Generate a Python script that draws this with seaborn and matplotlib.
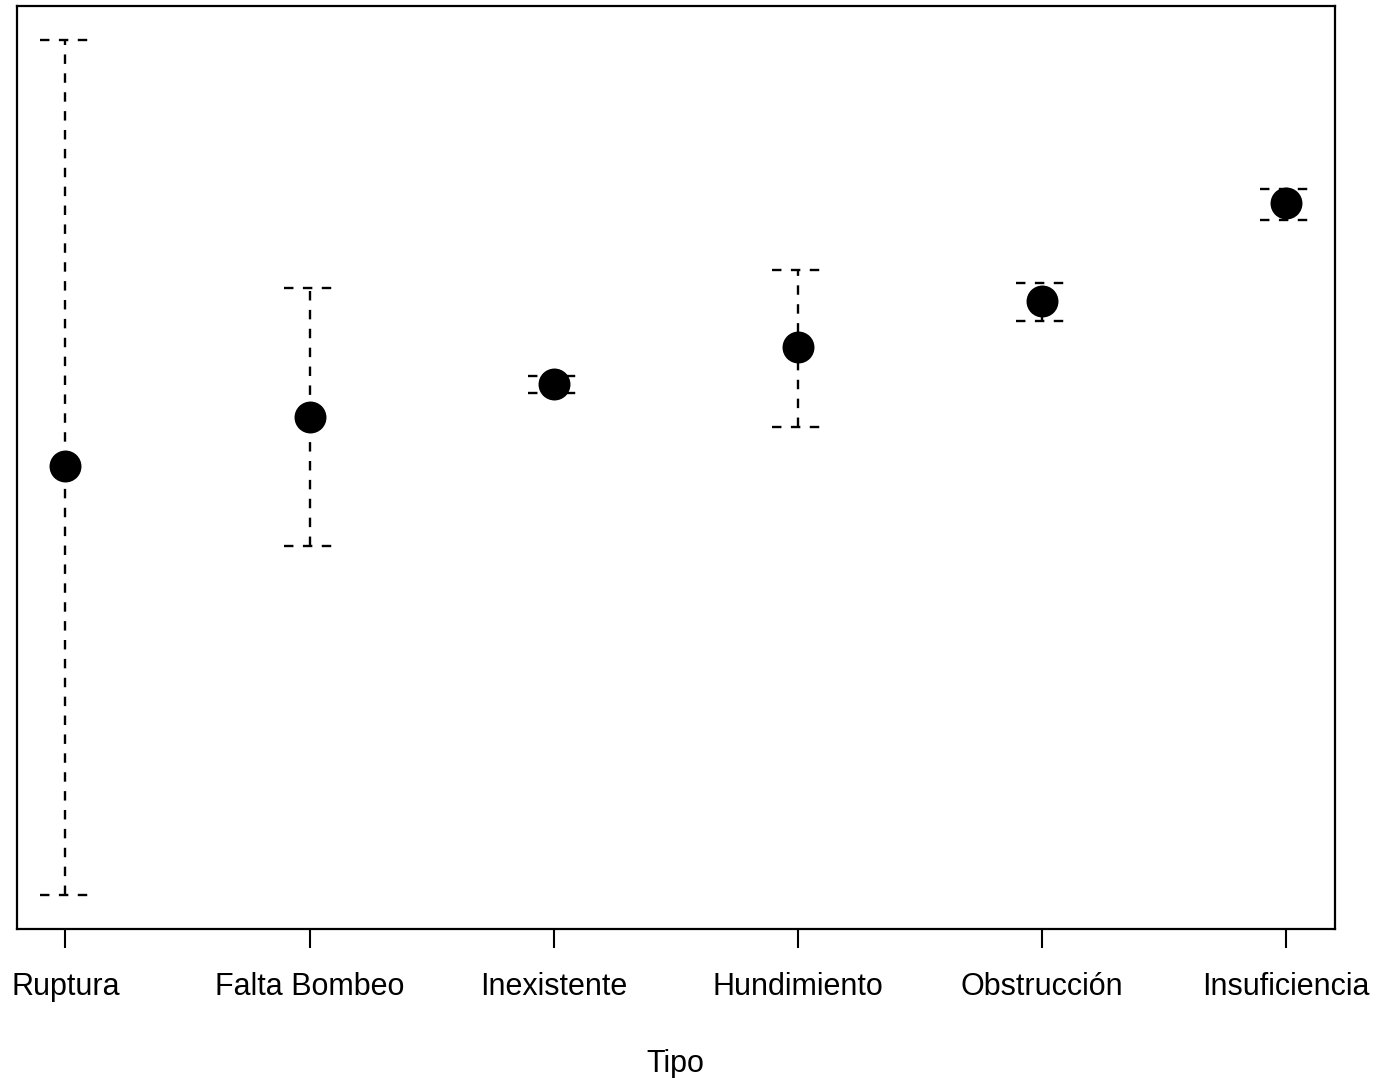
import numpy as np
import pandas as pd
import matplotlib
matplotlib.use("Agg")
import matplotlib.pyplot as plt
import seaborn as sns

# Datos (escala arbitraria: el eje Y no tiene etiquetas en el original)
tipos = ["Ruptura", "Falta Bombeo", "Inexistente", "Hundimiento", "Obstrucción", "Insuficiencia"]
media = [4.63, 5.12, 5.45, 5.82, 6.28, 7.26]
limite_sup = [8.89, 6.41, 5.53, 6.59, 6.46, 7.40]
limite_inf = [0.34, 3.83, 5.36, 5.02, 6.08, 7.09]

df = pd.DataFrame({"tipo": tipos, "media": media,
                   "sup": limite_sup, "inf": limite_inf})
df["x"] = np.arange(1, len(df) + 1)

sns.set_style("white")
plt.rcParams["font.family"] = ["Liberation Sans", "DejaVu Sans"]
plt.rcParams["text.color"] = "black"
plt.rcParams["axes.labelcolor"] = "black"
plt.rcParams["xtick.color"] = "black"

fig = plt.figure(figsize=(13.81, 10.78), dpi=100)
ax = fig.add_axes([0.012, 0.1382, 0.9546, 0.8562])

# Barras de error discontinuas (estilo R, lty=2)
estilo = dict(colors="black", linestyles=(0, (4, 4)), linewidth=1.7)
ax.vlines(df["x"], df["inf"], df["sup"], **estilo)
ancho_cap = 0.105
ax.hlines(df["sup"], df["x"] - ancho_cap, df["x"] + ancho_cap, **estilo)
ax.hlines(df["inf"], df["x"] - ancho_cap, df["x"] + ancho_cap, **estilo)

sns.scatterplot(data=df, x="x", y="media", ax=ax, color="black",
                s=23 ** 2, edgecolor="black", linewidth=0, zorder=3)

# Rango de ejes como en R (4% de margen)
x_pad = 0.04 * (len(df) - 1)
ax.set_xlim(1 - x_pad, len(df) + x_pad)
y_min, y_max = min(limite_inf), max(limite_sup)
y_pad = 0.04 * (y_max - y_min)
ax.set_ylim(y_min - y_pad, y_max + y_pad)

ax.set_xticks(df["x"])
ax.set_xticklabels(tipos, fontsize=22)
ax.set_yticks([])
ax.tick_params(axis="x", direction="out", length=14, width=1.5,
               pad=17, bottom=True, color="black", labelcolor="black")
ax.set_xlabel("Tipo", fontsize=22, labelpad=34, color="black")
ax.set_ylabel("")

for s in ax.spines.values():
    s.set_visible(True)
    s.set_color("black")
    s.set_linewidth(1.6)

fig.savefig("out.png", dpi=100)
